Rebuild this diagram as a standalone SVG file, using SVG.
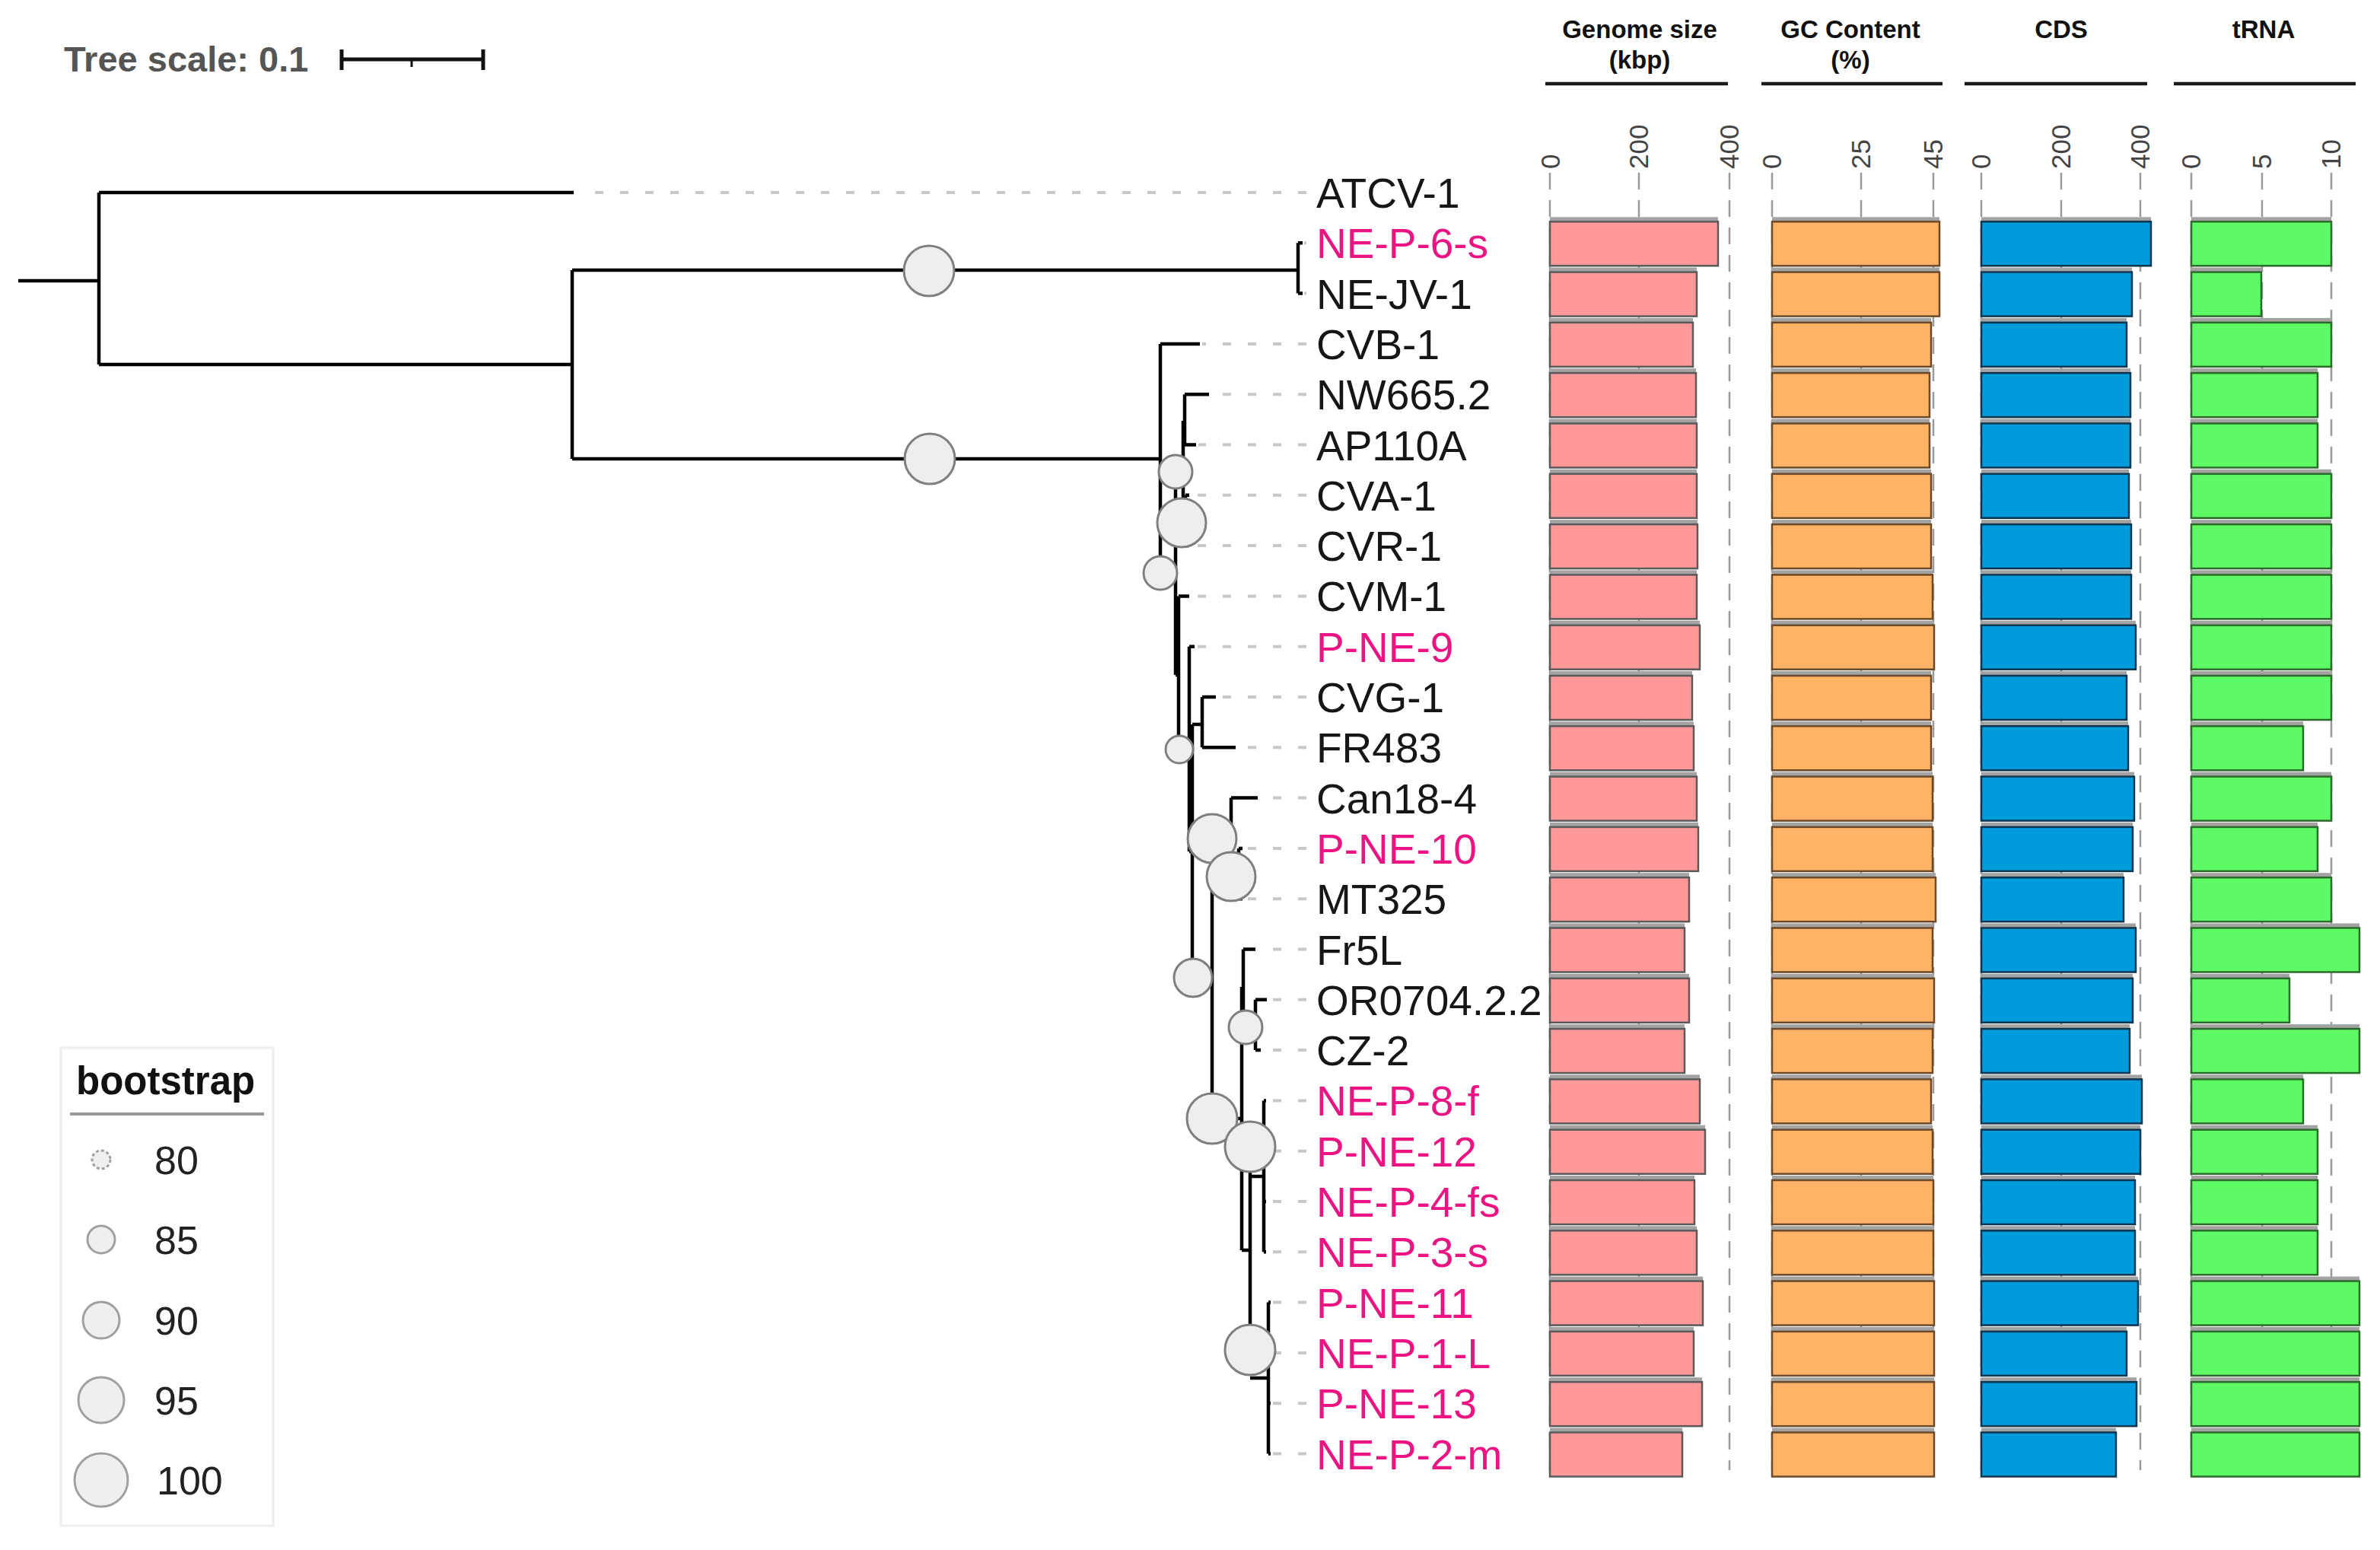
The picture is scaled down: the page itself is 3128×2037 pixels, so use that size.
<svg xmlns="http://www.w3.org/2000/svg" width="3128" height="2037" viewBox="0 0 3128 2037">
<style>
text{font-family:"Liberation Sans",Arial,sans-serif}
.lb{font-size:55px;fill:#161616}
.pk{fill:#EC1482}
.hd{font-size:33px;font-weight:bold;fill:#111;text-anchor:middle}
.tk{font-size:35px;fill:#444;text-anchor:start}
.br{fill:none;stroke:#000;stroke-width:4.5}
.ld{fill:none;stroke:#c8c8c8;stroke-width:4;stroke-dasharray:11 22}
.gr{fill:none;stroke:#9a9a9a;stroke-width:2.5;stroke-dasharray:22 14}
.bs{fill:#eeeeee;stroke:#7f7f7f;stroke-width:3}
.lg{fill:#efefef;stroke:#a0a0a0;stroke-width:3}
.sh{fill:#a3a3a3}
.b1{fill:#FF9999;stroke:#5a5a5a;stroke-width:2.5}
.b2{fill:#FFB366;stroke:#6a4a2a;stroke-width:2.5}
.b3{fill:#009BDB;stroke:#0c3550;stroke-width:2.5}
.b4{fill:#5EFA66;stroke:#2c6a2c;stroke-width:2.5}
</style>
<rect x="0" y="0" width="3128" height="2037" fill="#ffffff"/>

<g id="tree-scale">
<text x="84" y="94" font-size="47" font-weight="bold" fill="#555">Tree scale: 0.1</text>
<path d="M449 78H635M449 65V92M635 65V92" stroke="#111" stroke-width="5" fill="none"/>
<path d="M541 78V88" stroke="#111" stroke-width="3"/>
</g>

<g id="headers">
<text class="hd" x="2155" y="50">Genome size</text>
<text class="hd" x="2155" y="90">(kbp)</text>
<text class="hd" x="2432" y="50">GC Content</text>
<text class="hd" x="2432" y="90">(%)</text>
<text class="hd" x="2709" y="50">CDS</text>
<text class="hd" x="2975" y="50">tRNA</text>
<path d="M2031 110H2271M2315 110H2553M2582 110H2822M2857 110H3096" stroke="#1a1a1a" stroke-width="4.5"/>
</g>

<g id="axes">
<g class="tk">
<text transform="translate(2050,222) rotate(-90)">0</text>
<text transform="translate(2166,222) rotate(-90)">200</text>
<text transform="translate(2285,222) rotate(-90)">400</text>
<text transform="translate(2341,222) rotate(-90)">0</text>
<text transform="translate(2458,222) rotate(-90)">25</text>
<text transform="translate(2553,222) rotate(-90)">45</text>
<text transform="translate(2616,222) rotate(-90)">0</text>
<text transform="translate(2721,222) rotate(-90)">200</text>
<text transform="translate(2825,222) rotate(-90)">400</text>
<text transform="translate(2892,222) rotate(-90)">0</text>
<text transform="translate(2985,222) rotate(-90)">5</text>
<text transform="translate(3076,222) rotate(-90)">10</text>
</g>
<path class="gr" d="M2037 227V1932M2154 227V1932M2273 227V1932M2329 227V1932M2446 227V1932M2541 227V1932M2604 227V1932M2709 227V1932M2813 227V1932M2880 227V1932M2973 227V1932M3064 227V1932"/>
</g>

<g id="connectors">
<g id="leaders">
<path class="ld" d="M1717 253H760M1717 319.3H1714M1717 385.6H1714M1717 451.9H1580M1717 518.2H1592M1717 584.5H1575M1717 650.8H1566M1717 717.1H1566M1717 783.4H1566M1717 849.7H1573M1717 916H1601M1717 982.3H1627M1717 1048.6H1656M1717 1114.9H1636M1717 1181.2H1636M1717 1247.5H1653M1717 1313.8H1668M1717 1380.1H1660M1717 1446.4H1667M1717 1512.7H1667M1717 1579H1667M1717 1645.3H1667M1717 1711.6H1673M1717 1777.9H1673M1717 1844.2H1673M1717 1910.5H1673"/>
</g>
<g id="branches">
<path class="br" d="M24 369H130M130 253V479M130 253H754M130 479H752M752 355V603M752 355H1706M1706 319.3V385.6M1706 319.3H1712M1706 385.6H1712M752 603H1525"/>
<path class="br" d="M1525 451.9V753M1525 451.9H1577M1525 753H1545M1545 620V887M1545 620H1555M1555 553V687M1557 518.2V584.5M1557 518.2H1589M1557 584.5H1572M1555 553H1557M1555 687H1558M1558 650.8V717.1M1558 650.8H1563M1558 717.1H1563"/>
<path class="br" d="M1545 887H1549M1549 783.4V985M1549 783.4H1563M1549 985H1563M1563 849.7V1119M1563 849.7H1570M1563 1119H1567M1567 952V1286M1567 952H1580M1580 916V982.3M1580 916H1598M1580 982.3H1624"/>
<path class="br" d="M1567 1286H1593M1593 1102V1470M1593 1102H1618M1618 1048.6V1150M1618 1048.6H1653M1618 1150H1628M1628 1114.9V1181.2M1628 1114.9H1633M1628 1181.2H1633"/>
<path class="br" d="M1593 1470H1632M1632 1297V1643M1632 1297H1634M1634 1247.5V1347M1634 1247.5H1650M1634 1347H1650M1650 1313.8V1380.1M1650 1313.8H1665M1650 1380.1H1657"/>
<path class="br" d="M1632 1643H1643M1643 1507V1774M1643 1546H1661M1661 1446.4V1645.3M1661 1446.4H1664M1661 1512.7H1664M1661 1579H1664M1661 1645.3H1664M1643 1811H1667M1667 1711.6V1910.5M1667 1711.6H1670M1667 1777.9H1670M1667 1844.2H1670M1667 1910.5H1670"/>
</g>
<g id="bootstrap-symbols">
<circle class="bs" cx="1221" cy="356" r="33"/>
<circle class="bs" cx="1222" cy="603" r="33"/>
<circle class="bs" cx="1545" cy="620" r="22"/>
<circle class="bs" cx="1553" cy="687" r="32"/>
<circle class="bs" cx="1525" cy="753" r="22"/>
<circle class="bs" cx="1550" cy="985" r="18"/>
<circle class="bs" cx="1593" cy="1102" r="32"/>
<circle class="bs" cx="1618" cy="1152" r="32"/>
<circle class="bs" cx="1568" cy="1285" r="25"/>
<circle class="bs" cx="1637" cy="1350" r="22"/>
<circle class="bs" cx="1593" cy="1470" r="33"/>
<circle class="bs" cx="1643" cy="1507" r="33"/>
<circle class="bs" cx="1643" cy="1774" r="33"/>
</g>
</g>

<g id="leaves">
<g id="ATCV-1"><text class="lb" x="1730" y="273">ATCV-1</text></g>
<g id="NE-P-6-s"><text class="lb pk" x="1730" y="339.3">NE-P-6-s</text></g>
<g id="NE-JV-1"><text class="lb" x="1730" y="405.6">NE-JV-1</text></g>
<g id="CVB-1"><text class="lb" x="1730" y="471.9">CVB-1</text></g>
<g id="NW665.2"><text class="lb" x="1730" y="538.2">NW665.2</text></g>
<g id="AP110A"><text class="lb" x="1730" y="604.5">AP110A</text></g>
<g id="CVA-1"><text class="lb" x="1730" y="670.8">CVA-1</text></g>
<g id="CVR-1"><text class="lb" x="1730" y="737.1">CVR-1</text></g>
<g id="CVM-1"><text class="lb" x="1730" y="803.4">CVM-1</text></g>
<g id="P-NE-9"><text class="lb pk" x="1730" y="869.7">P-NE-9</text></g>
<g id="CVG-1"><text class="lb" x="1730" y="936">CVG-1</text></g>
<g id="FR483"><text class="lb" x="1730" y="1002.3">FR483</text></g>
<g id="Can18-4"><text class="lb" x="1730" y="1068.6">Can18-4</text></g>
<g id="P-NE-10"><text class="lb pk" x="1730" y="1134.9">P-NE-10</text></g>
<g id="MT325"><text class="lb" x="1730" y="1201.2">MT325</text></g>
<g id="Fr5L"><text class="lb" x="1730" y="1267.5">Fr5L</text></g>
<g id="OR0704.2.2"><text class="lb" x="1730" y="1333.8">OR0704.2.2</text></g>
<g id="CZ-2"><text class="lb" x="1730" y="1400.1">CZ-2</text></g>
<g id="NE-P-8-f"><text class="lb pk" x="1730" y="1466.4">NE-P-8-f</text></g>
<g id="P-NE-12"><text class="lb pk" x="1730" y="1532.7">P-NE-12</text></g>
<g id="NE-P-4-fs"><text class="lb pk" x="1730" y="1599">NE-P-4-fs</text></g>
<g id="NE-P-3-s"><text class="lb pk" x="1730" y="1665.3">NE-P-3-s</text></g>
<g id="P-NE-11"><text class="lb pk" x="1730" y="1731.6">P-NE-11</text></g>
<g id="NE-P-1-L"><text class="lb pk" x="1730" y="1797.9">NE-P-1-L</text></g>
<g id="P-NE-13"><text class="lb pk" x="1730" y="1864.2">P-NE-13</text></g>
<g id="NE-P-2-m"><text class="lb pk" x="1730" y="1930.5">NE-P-2-m</text></g>
</g>

<g id="bars">
<g transform="translate(0,319.3)"><rect class="sh" x="2037" y="-34" width="221" height="7"/><rect class="b1" x="2037" y="-28" width="221" height="58"/><rect class="sh" x="2329" y="-34" width="220" height="7"/><rect class="b2" x="2329" y="-28" width="220" height="58"/><rect class="sh" x="2604" y="-34" width="223" height="7"/><rect class="b3" x="2604" y="-28" width="223" height="58"/><rect class="sh" x="2880" y="-34" width="184" height="7"/><rect class="b4" x="2880" y="-28" width="184" height="58"/></g>
<g transform="translate(0,385.6)"><rect class="sh" x="2037" y="-34" width="193" height="7"/><rect class="b1" x="2037" y="-28" width="193" height="58"/><rect class="sh" x="2329" y="-34" width="220" height="7"/><rect class="b2" x="2329" y="-28" width="220" height="58"/><rect class="sh" x="2604" y="-34" width="198" height="7"/><rect class="b3" x="2604" y="-28" width="198" height="58"/><rect class="sh" x="2880" y="-34" width="92" height="7"/><rect class="b4" x="2880" y="-28" width="92" height="58"/></g>
<g transform="translate(0,451.9)"><rect class="sh" x="2037" y="-34" width="188" height="7"/><rect class="b1" x="2037" y="-28" width="188" height="58"/><rect class="sh" x="2329" y="-34" width="209" height="7"/><rect class="b2" x="2329" y="-28" width="209" height="58"/><rect class="sh" x="2604" y="-34" width="191" height="7"/><rect class="b3" x="2604" y="-28" width="191" height="58"/><rect class="sh" x="2880" y="-34" width="184" height="7"/><rect class="b4" x="2880" y="-28" width="184" height="58"/></g>
<g transform="translate(0,518.2)"><rect class="sh" x="2037" y="-34" width="192" height="7"/><rect class="b1" x="2037" y="-28" width="192" height="58"/><rect class="sh" x="2329" y="-34" width="207" height="7"/><rect class="b2" x="2329" y="-28" width="207" height="58"/><rect class="sh" x="2604" y="-34" width="196" height="7"/><rect class="b3" x="2604" y="-28" width="196" height="58"/><rect class="sh" x="2880" y="-34" width="166" height="7"/><rect class="b4" x="2880" y="-28" width="166" height="58"/></g>
<g transform="translate(0,584.5)"><rect class="sh" x="2037" y="-34" width="193" height="7"/><rect class="b1" x="2037" y="-28" width="193" height="58"/><rect class="sh" x="2329" y="-34" width="207" height="7"/><rect class="b2" x="2329" y="-28" width="207" height="58"/><rect class="sh" x="2604" y="-34" width="196" height="7"/><rect class="b3" x="2604" y="-28" width="196" height="58"/><rect class="sh" x="2880" y="-34" width="166" height="7"/><rect class="b4" x="2880" y="-28" width="166" height="58"/></g>
<g transform="translate(0,650.8)"><rect class="sh" x="2037" y="-34" width="193" height="7"/><rect class="b1" x="2037" y="-28" width="193" height="58"/><rect class="sh" x="2329" y="-34" width="209" height="7"/><rect class="b2" x="2329" y="-28" width="209" height="58"/><rect class="sh" x="2604" y="-34" width="194" height="7"/><rect class="b3" x="2604" y="-28" width="194" height="58"/><rect class="sh" x="2880" y="-34" width="184" height="7"/><rect class="b4" x="2880" y="-28" width="184" height="58"/></g>
<g transform="translate(0,717.1)"><rect class="sh" x="2037" y="-34" width="194" height="7"/><rect class="b1" x="2037" y="-28" width="194" height="58"/><rect class="sh" x="2329" y="-34" width="209" height="7"/><rect class="b2" x="2329" y="-28" width="209" height="58"/><rect class="sh" x="2604" y="-34" width="197" height="7"/><rect class="b3" x="2604" y="-28" width="197" height="58"/><rect class="sh" x="2880" y="-34" width="184" height="7"/><rect class="b4" x="2880" y="-28" width="184" height="58"/></g>
<g transform="translate(0,783.4)"><rect class="sh" x="2037" y="-34" width="193" height="7"/><rect class="b1" x="2037" y="-28" width="193" height="58"/><rect class="sh" x="2329" y="-34" width="211" height="7"/><rect class="b2" x="2329" y="-28" width="211" height="58"/><rect class="sh" x="2604" y="-34" width="197" height="7"/><rect class="b3" x="2604" y="-28" width="197" height="58"/><rect class="sh" x="2880" y="-34" width="184" height="7"/><rect class="b4" x="2880" y="-28" width="184" height="58"/></g>
<g transform="translate(0,849.7)"><rect class="sh" x="2037" y="-34" width="197" height="7"/><rect class="b1" x="2037" y="-28" width="197" height="58"/><rect class="sh" x="2329" y="-34" width="213" height="7"/><rect class="b2" x="2329" y="-28" width="213" height="58"/><rect class="sh" x="2604" y="-34" width="203" height="7"/><rect class="b3" x="2604" y="-28" width="203" height="58"/><rect class="sh" x="2880" y="-34" width="184" height="7"/><rect class="b4" x="2880" y="-28" width="184" height="58"/></g>
<g transform="translate(0,916)"><rect class="sh" x="2037" y="-34" width="187" height="7"/><rect class="b1" x="2037" y="-28" width="187" height="58"/><rect class="sh" x="2329" y="-34" width="209" height="7"/><rect class="b2" x="2329" y="-28" width="209" height="58"/><rect class="sh" x="2604" y="-34" width="191" height="7"/><rect class="b3" x="2604" y="-28" width="191" height="58"/><rect class="sh" x="2880" y="-34" width="184" height="7"/><rect class="b4" x="2880" y="-28" width="184" height="58"/></g>
<g transform="translate(0,982.3)"><rect class="sh" x="2037" y="-34" width="189" height="7"/><rect class="b1" x="2037" y="-28" width="189" height="58"/><rect class="sh" x="2329" y="-34" width="209" height="7"/><rect class="b2" x="2329" y="-28" width="209" height="58"/><rect class="sh" x="2604" y="-34" width="193" height="7"/><rect class="b3" x="2604" y="-28" width="193" height="58"/><rect class="sh" x="2880" y="-34" width="147" height="7"/><rect class="b4" x="2880" y="-28" width="147" height="58"/></g>
<g transform="translate(0,1048.6)"><rect class="sh" x="2037" y="-34" width="193" height="7"/><rect class="b1" x="2037" y="-28" width="193" height="58"/><rect class="sh" x="2329" y="-34" width="211" height="7"/><rect class="b2" x="2329" y="-28" width="211" height="58"/><rect class="sh" x="2604" y="-34" width="201" height="7"/><rect class="b3" x="2604" y="-28" width="201" height="58"/><rect class="sh" x="2880" y="-34" width="184" height="7"/><rect class="b4" x="2880" y="-28" width="184" height="58"/></g>
<g transform="translate(0,1114.9)"><rect class="sh" x="2037" y="-34" width="195" height="7"/><rect class="b1" x="2037" y="-28" width="195" height="58"/><rect class="sh" x="2329" y="-34" width="211" height="7"/><rect class="b2" x="2329" y="-28" width="211" height="58"/><rect class="sh" x="2604" y="-34" width="199" height="7"/><rect class="b3" x="2604" y="-28" width="199" height="58"/><rect class="sh" x="2880" y="-34" width="166" height="7"/><rect class="b4" x="2880" y="-28" width="166" height="58"/></g>
<g transform="translate(0,1181.2)"><rect class="sh" x="2037" y="-34" width="183" height="7"/><rect class="b1" x="2037" y="-28" width="183" height="58"/><rect class="sh" x="2329" y="-34" width="215" height="7"/><rect class="b2" x="2329" y="-28" width="215" height="58"/><rect class="sh" x="2604" y="-34" width="187" height="7"/><rect class="b3" x="2604" y="-28" width="187" height="58"/><rect class="sh" x="2880" y="-34" width="184" height="7"/><rect class="b4" x="2880" y="-28" width="184" height="58"/></g>
<g transform="translate(0,1247.5)"><rect class="sh" x="2037" y="-34" width="177" height="7"/><rect class="b1" x="2037" y="-28" width="177" height="58"/><rect class="sh" x="2329" y="-34" width="211" height="7"/><rect class="b2" x="2329" y="-28" width="211" height="58"/><rect class="sh" x="2604" y="-34" width="203" height="7"/><rect class="b3" x="2604" y="-28" width="203" height="58"/><rect class="sh" x="2880" y="-34" width="221" height="7"/><rect class="b4" x="2880" y="-28" width="221" height="58"/></g>
<g transform="translate(0,1313.8)"><rect class="sh" x="2037" y="-34" width="183" height="7"/><rect class="b1" x="2037" y="-28" width="183" height="58"/><rect class="sh" x="2329" y="-34" width="213" height="7"/><rect class="b2" x="2329" y="-28" width="213" height="58"/><rect class="sh" x="2604" y="-34" width="199" height="7"/><rect class="b3" x="2604" y="-28" width="199" height="58"/><rect class="sh" x="2880" y="-34" width="129" height="7"/><rect class="b4" x="2880" y="-28" width="129" height="58"/></g>
<g transform="translate(0,1380.1)"><rect class="sh" x="2037" y="-34" width="177" height="7"/><rect class="b1" x="2037" y="-28" width="177" height="58"/><rect class="sh" x="2329" y="-34" width="211" height="7"/><rect class="b2" x="2329" y="-28" width="211" height="58"/><rect class="sh" x="2604" y="-34" width="195" height="7"/><rect class="b3" x="2604" y="-28" width="195" height="58"/><rect class="sh" x="2880" y="-34" width="221" height="7"/><rect class="b4" x="2880" y="-28" width="221" height="58"/></g>
<g transform="translate(0,1446.4)"><rect class="sh" x="2037" y="-34" width="197" height="7"/><rect class="b1" x="2037" y="-28" width="197" height="58"/><rect class="sh" x="2329" y="-34" width="209" height="7"/><rect class="b2" x="2329" y="-28" width="209" height="58"/><rect class="sh" x="2604" y="-34" width="211" height="7"/><rect class="b3" x="2604" y="-28" width="211" height="58"/><rect class="sh" x="2880" y="-34" width="147" height="7"/><rect class="b4" x="2880" y="-28" width="147" height="58"/></g>
<g transform="translate(0,1512.7)"><rect class="sh" x="2037" y="-34" width="204" height="7"/><rect class="b1" x="2037" y="-28" width="204" height="58"/><rect class="sh" x="2329" y="-34" width="211" height="7"/><rect class="b2" x="2329" y="-28" width="211" height="58"/><rect class="sh" x="2604" y="-34" width="209" height="7"/><rect class="b3" x="2604" y="-28" width="209" height="58"/><rect class="sh" x="2880" y="-34" width="166" height="7"/><rect class="b4" x="2880" y="-28" width="166" height="58"/></g>
<g transform="translate(0,1579)"><rect class="sh" x="2037" y="-34" width="190" height="7"/><rect class="b1" x="2037" y="-28" width="190" height="58"/><rect class="sh" x="2329" y="-34" width="212" height="7"/><rect class="b2" x="2329" y="-28" width="212" height="58"/><rect class="sh" x="2604" y="-34" width="202" height="7"/><rect class="b3" x="2604" y="-28" width="202" height="58"/><rect class="sh" x="2880" y="-34" width="166" height="7"/><rect class="b4" x="2880" y="-28" width="166" height="58"/></g>
<g transform="translate(0,1645.3)"><rect class="sh" x="2037" y="-34" width="193" height="7"/><rect class="b1" x="2037" y="-28" width="193" height="58"/><rect class="sh" x="2329" y="-34" width="212" height="7"/><rect class="b2" x="2329" y="-28" width="212" height="58"/><rect class="sh" x="2604" y="-34" width="202" height="7"/><rect class="b3" x="2604" y="-28" width="202" height="58"/><rect class="sh" x="2880" y="-34" width="166" height="7"/><rect class="b4" x="2880" y="-28" width="166" height="58"/></g>
<g transform="translate(0,1711.6)"><rect class="sh" x="2037" y="-34" width="201" height="7"/><rect class="b1" x="2037" y="-28" width="201" height="58"/><rect class="sh" x="2329" y="-34" width="213" height="7"/><rect class="b2" x="2329" y="-28" width="213" height="58"/><rect class="sh" x="2604" y="-34" width="206" height="7"/><rect class="b3" x="2604" y="-28" width="206" height="58"/><rect class="sh" x="2880" y="-34" width="221" height="7"/><rect class="b4" x="2880" y="-28" width="221" height="58"/></g>
<g transform="translate(0,1777.9)"><rect class="sh" x="2037" y="-34" width="189" height="7"/><rect class="b1" x="2037" y="-28" width="189" height="58"/><rect class="sh" x="2329" y="-34" width="213" height="7"/><rect class="b2" x="2329" y="-28" width="213" height="58"/><rect class="sh" x="2604" y="-34" width="191" height="7"/><rect class="b3" x="2604" y="-28" width="191" height="58"/><rect class="sh" x="2880" y="-34" width="221" height="7"/><rect class="b4" x="2880" y="-28" width="221" height="58"/></g>
<g transform="translate(0,1844.2)"><rect class="sh" x="2037" y="-34" width="200" height="7"/><rect class="b1" x="2037" y="-28" width="200" height="58"/><rect class="sh" x="2329" y="-34" width="213" height="7"/><rect class="b2" x="2329" y="-28" width="213" height="58"/><rect class="sh" x="2604" y="-34" width="204" height="7"/><rect class="b3" x="2604" y="-28" width="204" height="58"/><rect class="sh" x="2880" y="-34" width="221" height="7"/><rect class="b4" x="2880" y="-28" width="221" height="58"/></g>
<g transform="translate(0,1910.5)"><rect class="sh" x="2037" y="-34" width="174" height="7"/><rect class="b1" x="2037" y="-28" width="174" height="58"/><rect class="sh" x="2329" y="-34" width="213" height="7"/><rect class="b2" x="2329" y="-28" width="213" height="58"/><rect class="sh" x="2604" y="-34" width="177" height="7"/><rect class="b3" x="2604" y="-28" width="177" height="58"/><rect class="sh" x="2880" y="-34" width="221" height="7"/><rect class="b4" x="2880" y="-28" width="221" height="58"/></g>
</g>

<g id="legend">
<rect x="80" y="1377" width="279" height="628" fill="none" stroke="#eeeeee" stroke-width="3"/>
<text x="100" y="1438" font-size="51" font-weight="bold" fill="#111">bootstrap</text>
<path d="M92 1464H347" stroke="#999" stroke-width="4"/>
<circle class="lg" cx="133" cy="1524" r="12" stroke-dasharray="4 3"/>
<circle class="lg" cx="133" cy="1629" r="18"/>
<circle class="lg" cx="133" cy="1735" r="24"/>
<circle class="lg" cx="133" cy="1840" r="30"/>
<circle class="lg" cx="133" cy="1945" r="35"/>
<g font-size="52" fill="#222">
<text x="203" y="1543">80</text>
<text x="203" y="1648">85</text>
<text x="203" y="1754">90</text>
<text x="203" y="1859">95</text>
<text x="206" y="1964">100</text>
</g>
</g>
</svg>
